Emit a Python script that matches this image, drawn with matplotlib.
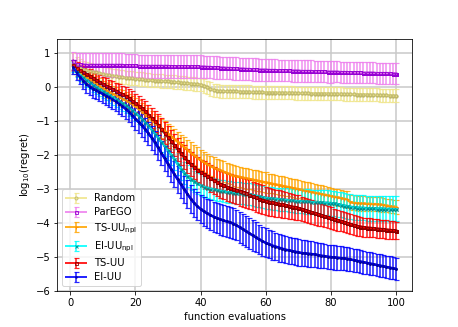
import numpy as np
import matplotlib
matplotlib.use('Agg')
import matplotlib.pyplot as plt

# function evaluations
evals = np.arange(1, 101)

random_mean = [0.70, 0.63, 0.57, 0.53, 0.50, 0.48, 0.46, 0.44, 0.42, 0.40,
               0.38, 0.36, 0.35, 0.33, 0.32, 0.30, 0.29, 0.28, 0.27, 0.26,
               0.25, 0.24, 0.23, 0.22, 0.21, 0.20, 0.20, 0.19, 0.18, 0.18,
               0.17, 0.16, 0.15, 0.14, 0.13, 0.12, 0.11, 0.10, 0.09, 0.08,
               0.05, 0.00, -0.05, -0.08, -0.10, -0.11, -0.11, -0.12, -0.12, -0.12,
               -0.12, -0.13, -0.13, -0.13, -0.13, -0.14, -0.14, -0.14, -0.14, -0.15,
               -0.15, -0.15, -0.15, -0.16, -0.16, -0.16, -0.16, -0.16, -0.17, -0.17,
               -0.17, -0.17, -0.17, -0.18, -0.18, -0.18, -0.18, -0.18, -0.18, -0.19,
               -0.19, -0.19, -0.19, -0.20, -0.20, -0.20, -0.20, -0.21, -0.21, -0.21,
               -0.21, -0.22, -0.22, -0.22, -0.23, -0.23, -0.23, -0.24, -0.24, -0.25]
random_err = [0.30, 0.28, 0.26, 0.25, 0.24, 0.23, 0.22, 0.22, 0.21, 0.21,
              0.21, 0.20, 0.20, 0.20, 0.20, 0.20, 0.20, 0.20, 0.20, 0.20,
              0.20, 0.20, 0.20, 0.20, 0.20, 0.20, 0.20, 0.20, 0.20, 0.20,
              0.20, 0.20, 0.20, 0.20, 0.20, 0.20, 0.20, 0.20, 0.20, 0.20,
              0.20, 0.20, 0.20, 0.19, 0.19, 0.19, 0.19, 0.19, 0.19, 0.19,
              0.19, 0.19, 0.19, 0.19, 0.19, 0.19, 0.19, 0.19, 0.19, 0.19,
              0.19, 0.19, 0.19, 0.19, 0.19, 0.19, 0.19, 0.19, 0.19, 0.19,
              0.19, 0.19, 0.19, 0.19, 0.19, 0.19, 0.19, 0.19, 0.19, 0.19,
              0.19, 0.19, 0.19, 0.19, 0.19, 0.19, 0.19, 0.19, 0.19, 0.19,
              0.19, 0.19, 0.19, 0.19, 0.19, 0.19, 0.19, 0.19, 0.19, 0.19]

parego_mean = [0.78, 0.70, 0.68, 0.67, 0.66, 0.66, 0.66, 0.66, 0.66, 0.66,
               0.66, 0.66, 0.66, 0.66, 0.66, 0.66, 0.65, 0.65, 0.65, 0.65,
               0.63, 0.63, 0.63, 0.63, 0.63, 0.63, 0.63, 0.63, 0.63, 0.63,
               0.62, 0.62, 0.62, 0.62, 0.62, 0.62, 0.62, 0.62, 0.62, 0.61,
               0.61, 0.60, 0.60, 0.59, 0.59, 0.58, 0.58, 0.57, 0.57, 0.56,
               0.56, 0.55, 0.55, 0.54, 0.54, 0.53, 0.53, 0.52, 0.52, 0.52,
               0.51, 0.51, 0.51, 0.50, 0.50, 0.50, 0.50, 0.49, 0.49, 0.49,
               0.48, 0.48, 0.48, 0.48, 0.47, 0.47, 0.47, 0.47, 0.46, 0.46,
               0.46, 0.46, 0.45, 0.45, 0.45, 0.44, 0.44, 0.44, 0.44, 0.43,
               0.43, 0.43, 0.43, 0.42, 0.42, 0.42, 0.42, 0.42, 0.41, 0.41]
parego_err = [0.25, 0.30, 0.32, 0.33, 0.34, 0.34, 0.34, 0.34, 0.34, 0.34,
              0.34, 0.34, 0.34, 0.34, 0.34, 0.34, 0.34, 0.34, 0.34, 0.34,
              0.34, 0.34, 0.34, 0.34, 0.34, 0.34, 0.34, 0.34, 0.34, 0.34,
              0.34, 0.34, 0.34, 0.34, 0.34, 0.34, 0.34, 0.34, 0.34, 0.34,
              0.33, 0.33, 0.33, 0.33, 0.33, 0.33, 0.33, 0.33, 0.33, 0.33,
              0.33, 0.33, 0.33, 0.33, 0.33, 0.33, 0.33, 0.33, 0.33, 0.33,
              0.32, 0.32, 0.32, 0.32, 0.32, 0.32, 0.32, 0.32, 0.32, 0.32,
              0.32, 0.32, 0.32, 0.32, 0.32, 0.32, 0.32, 0.32, 0.32, 0.32,
              0.31, 0.31, 0.31, 0.31, 0.31, 0.31, 0.31, 0.31, 0.31, 0.31,
              0.31, 0.31, 0.31, 0.31, 0.31, 0.31, 0.31, 0.31, 0.31, 0.31]

ts_npl_mean = [0.62, 0.52, 0.44, 0.36, 0.30, 0.24, 0.18, 0.12, 0.05, -0.02,
               -0.08, -0.13, -0.18, -0.23, -0.28, -0.33, -0.38, -0.43, -0.49, -0.55,
               -0.63, -0.71, -0.79, -0.87, -0.96, -1.04, -1.12, -1.20, -1.28, -1.36,
               -1.44, -1.52, -1.60, -1.68, -1.76, -1.84, -1.92, -2.00, -2.07, -2.14,
               -2.20, -2.26, -2.31, -2.36, -2.40, -2.44, -2.48, -2.52, -2.56, -2.60,
               -2.62, -2.64, -2.66, -2.68, -2.70, -2.72, -2.74, -2.76, -2.78, -2.80,
               -2.82, -2.84, -2.86, -2.88, -2.90, -2.92, -2.94, -2.96, -2.98, -3.00,
               -3.02, -3.04, -3.06, -3.08, -3.10, -3.12, -3.14, -3.16, -3.18, -3.20,
               -3.22, -3.24, -3.26, -3.28, -3.30, -3.38, -3.40, -3.41, -3.42, -3.42,
               -3.43, -3.43, -3.44, -3.44, -3.45, -3.46, -3.48, -3.50, -3.51, -3.52]
ts_npl_err = [0.15, 0.17, 0.18, 0.19, 0.20, 0.20, 0.21, 0.21, 0.22, 0.22,
              0.22, 0.23, 0.23, 0.23, 0.24, 0.24, 0.24, 0.25, 0.25, 0.25,
              0.26, 0.26, 0.26, 0.27, 0.27, 0.27, 0.28, 0.28, 0.28, 0.28,
              0.29, 0.29, 0.29, 0.29, 0.30, 0.30, 0.30, 0.30, 0.30, 0.30,
              0.30, 0.30, 0.30, 0.30, 0.30, 0.30, 0.30, 0.30, 0.30, 0.30,
              0.30, 0.30, 0.30, 0.30, 0.30, 0.30, 0.30, 0.30, 0.30, 0.30,
              0.28, 0.28, 0.28, 0.28, 0.28, 0.27, 0.27, 0.27, 0.27, 0.27,
              0.26, 0.26, 0.26, 0.26, 0.26, 0.25, 0.25, 0.25, 0.25, 0.25,
              0.24, 0.24, 0.24, 0.24, 0.24, 0.22, 0.22, 0.22, 0.22, 0.22,
              0.21, 0.21, 0.21, 0.21, 0.21, 0.20, 0.20, 0.20, 0.20, 0.20]

ei_npl_mean = [0.60, 0.48, 0.38, 0.30, 0.22, 0.15, 0.08, 0.02, -0.04, -0.10,
               -0.16, -0.22, -0.28, -0.34, -0.40, -0.46, -0.52, -0.59, -0.66, -0.74,
               -0.83, -0.92, -1.02, -1.12, -1.24, -1.36, -1.48, -1.60, -1.72, -1.85,
               -1.98, -2.12, -2.26, -2.40, -2.52, -2.62, -2.70, -2.77, -2.83, -2.88,
               -2.92, -2.95, -2.98, -3.00, -3.02, -3.04, -3.06, -3.08, -3.09, -3.10,
               -3.11, -3.12, -3.13, -3.14, -3.15, -3.17, -3.19, -3.21, -3.23, -3.25,
               -3.26, -3.27, -3.28, -3.29, -3.30, -3.31, -3.32, -3.33, -3.34, -3.35,
               -3.35, -3.36, -3.36, -3.37, -3.38, -3.38, -3.39, -3.40, -3.40, -3.41,
               -3.42, -3.44, -3.46, -3.48, -3.50, -3.52, -3.53, -3.54, -3.55, -3.55,
               -3.56, -3.56, -3.56, -3.57, -3.57, -3.57, -3.58, -3.58, -3.58, -3.58]
ei_npl_err = [0.15, 0.17, 0.18, 0.19, 0.20, 0.20, 0.21, 0.21, 0.22, 0.22,
              0.22, 0.23, 0.23, 0.23, 0.24, 0.24, 0.24, 0.25, 0.25, 0.25,
              0.26, 0.26, 0.27, 0.27, 0.28, 0.28, 0.29, 0.29, 0.30, 0.30,
              0.31, 0.31, 0.32, 0.32, 0.32, 0.32, 0.32, 0.32, 0.32, 0.32,
              0.32, 0.32, 0.32, 0.32, 0.32, 0.32, 0.32, 0.32, 0.32, 0.32,
              0.32, 0.32, 0.32, 0.32, 0.32, 0.32, 0.32, 0.32, 0.32, 0.32,
              0.33, 0.33, 0.33, 0.34, 0.34, 0.34, 0.35, 0.35, 0.35, 0.35,
              0.36, 0.36, 0.36, 0.36, 0.36, 0.37, 0.37, 0.37, 0.37, 0.37,
              0.37, 0.37, 0.37, 0.37, 0.37, 0.37, 0.37, 0.37, 0.37, 0.37,
              0.37, 0.37, 0.37, 0.37, 0.37, 0.37, 0.37, 0.37, 0.37, 0.37]

ts_mean = [0.65, 0.58, 0.52, 0.46, 0.40, 0.34, 0.28, 0.22, 0.16, 0.10,
           0.05, 0.00, -0.05, -0.10, -0.15, -0.20, -0.26, -0.32, -0.39, -0.46,
           -0.54, -0.62, -0.70, -0.80, -0.90, -1.00, -1.10, -1.22, -1.34, -1.46,
           -1.58, -1.70, -1.82, -1.94, -2.06, -2.16, -2.26, -2.35, -2.43, -2.50,
           -2.56, -2.62, -2.68, -2.74, -2.80, -2.85, -2.89, -2.93, -2.97, -3.00,
           -3.03, -3.06, -3.09, -3.12, -3.16, -3.20, -3.24, -3.28, -3.31, -3.34,
           -3.37, -3.39, -3.41, -3.43, -3.45, -3.47, -3.49, -3.51, -3.53, -3.55,
           -3.58, -3.61, -3.64, -3.67, -3.70, -3.73, -3.76, -3.79, -3.82, -3.85,
           -3.88, -3.91, -3.94, -3.97, -4.00, -4.03, -4.06, -4.08, -4.10, -4.12,
           -4.13, -4.14, -4.15, -4.16, -4.17, -4.18, -4.19, -4.20, -4.21, -4.22]
ts_err = [0.15, 0.17, 0.18, 0.19, 0.20, 0.20, 0.21, 0.21, 0.22, 0.22,
          0.23, 0.23, 0.24, 0.24, 0.25, 0.25, 0.26, 0.26, 0.27, 0.27,
          0.28, 0.28, 0.29, 0.29, 0.30, 0.30, 0.31, 0.31, 0.32, 0.32,
          0.33, 0.33, 0.34, 0.34, 0.35, 0.35, 0.36, 0.36, 0.37, 0.37,
          0.38, 0.38, 0.39, 0.39, 0.40, 0.40, 0.41, 0.41, 0.42, 0.42,
          0.42, 0.42, 0.42, 0.42, 0.42, 0.42, 0.42, 0.42, 0.42, 0.42,
          0.41, 0.41, 0.40, 0.40, 0.39, 0.39, 0.38, 0.38, 0.37, 0.37,
          0.36, 0.36, 0.35, 0.35, 0.34, 0.34, 0.33, 0.33, 0.32, 0.32,
          0.31, 0.31, 0.30, 0.30, 0.30, 0.29, 0.29, 0.29, 0.28, 0.28,
          0.28, 0.28, 0.27, 0.27, 0.27, 0.27, 0.27, 0.26, 0.26, 0.26]

ei_mean = [0.60, 0.45, 0.32, 0.20, 0.10, 0.02, -0.04, -0.09, -0.14, -0.19,
           -0.24, -0.29, -0.35, -0.41, -0.48, -0.55, -0.63, -0.72, -0.82, -0.92,
           -1.02, -1.12, -1.23, -1.35, -1.48, -1.62, -1.77, -1.93, -2.09, -2.25,
           -2.41, -2.56, -2.71, -2.86, -3.00, -3.14, -3.28, -3.40, -3.50, -3.58,
           -3.65, -3.71, -3.76, -3.81, -3.85, -3.89, -3.92, -3.95, -3.98, -4.01,
           -4.06, -4.12, -4.18, -4.24, -4.30, -4.36, -4.42, -4.48, -4.53, -4.58,
           -4.62, -4.66, -4.69, -4.72, -4.75, -4.78, -4.80, -4.82, -4.84, -4.86,
           -4.88, -4.89, -4.90, -4.91, -4.92, -4.94, -4.96, -4.97, -4.99, -5.00,
           -5.01, -5.02, -5.03, -5.04, -5.05, -5.07, -5.09, -5.11, -5.13, -5.15,
           -5.17, -5.19, -5.21, -5.23, -5.25, -5.27, -5.29, -5.31, -5.33, -5.35]
ei_err = [0.20, 0.22, 0.23, 0.24, 0.25, 0.25, 0.26, 0.26, 0.27, 0.27,
          0.28, 0.28, 0.29, 0.29, 0.30, 0.30, 0.31, 0.31, 0.32, 0.32,
          0.33, 0.33, 0.34, 0.34, 0.35, 0.35, 0.36, 0.36, 0.37, 0.37,
          0.38, 0.38, 0.39, 0.39, 0.40, 0.40, 0.41, 0.41, 0.42, 0.42,
          0.43, 0.43, 0.44, 0.44, 0.45, 0.45, 0.45, 0.45, 0.45, 0.45,
          0.45, 0.45, 0.45, 0.45, 0.45, 0.45, 0.44, 0.44, 0.43, 0.43,
          0.42, 0.42, 0.41, 0.41, 0.40, 0.40, 0.40, 0.39, 0.39, 0.39,
          0.38, 0.38, 0.38, 0.37, 0.37, 0.37, 0.37, 0.36, 0.36, 0.36,
          0.36, 0.35, 0.35, 0.35, 0.35, 0.34, 0.34, 0.34, 0.34, 0.34,
          0.33, 0.33, 0.33, 0.33, 0.33, 0.33, 0.33, 0.33, 0.33, 0.33]

# (label, mean, err, bar colour, line colour, marker)
methods = [
    ('Random', random_mean, random_err, 'khaki', 'darkkhaki', 'o'),
    ('ParEGO', parego_mean, parego_err, 'violet', 'darkviolet', 's'),
    (r'TS-UU$_{\mathrm{npl}}$', ts_npl_mean, ts_npl_err, 'orange', 'darkorange', '+'),
    (r'EI-UU$_{\mathrm{npl}}$', ei_npl_mean, ei_npl_err, 'cyan', 'darkcyan', 'x'),
    ('TS-UU', ts_mean, ts_err, 'red', 'darkred', 's'),
    ('EI-UU', ei_mean, ei_err, 'blue', 'darkblue', '.'),
]

fig = plt.figure(figsize=(458 / 72, 327 / 72), dpi=72)
ax = fig.add_subplot(111)
ax.grid(True, color='#c8c8c8', linewidth=1.5, zorder=0)

for label, mean, err, c_bar, c_line, mk in methods:
    ax.errorbar(evals, mean, yerr=err, color=c_bar, ecolor=c_bar,
                marker=mk, markersize=3, markeredgecolor=c_line,
                markerfacecolor='none', linewidth=2,
                elinewidth=1.6, capsize=2.5, capthick=1.2, alpha=0.85,
                label=label)
    ax.plot(evals, mean, color=c_line, marker=mk, markersize=3,
            linewidth=2.5)

ax.set_xticks([0, 20, 40, 60, 80, 100])
ax.set_yticks([-6, -5, -4, -3, -2, -1, 0, 1])
ax.set_ylim(-6, 1.42)
ax.set_xlabel('function evaluations')
ax.set_ylabel(r'log$_{10}$(regret)')
ax.legend(loc='lower left', fontsize=10, labelspacing=0.4)

fig.savefig('out.png', dpi=72)
